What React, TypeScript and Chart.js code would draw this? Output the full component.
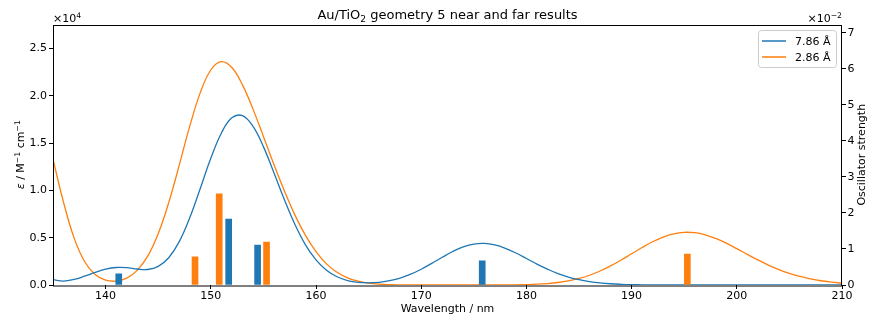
import { useEffect, useRef } from 'react';
import { Chart, registerables } from 'chart.js';

Chart.register(...registerables);

// ---- data ----
const wavelengths = [
  135, 136, 137, 138, 139, 140, 141, 142, 143, 144, 145, 146, 147, 148, 149, 150,
  151, 152, 153, 154, 155, 156, 157, 158, 159, 160, 161, 162, 163, 164, 165, 166,
  167, 168, 169, 170, 171, 172, 173, 174, 175, 176, 177, 178, 179, 180, 181, 182,
  183, 184, 185, 186, 187, 188, 189, 190, 191, 192, 193, 194, 195, 196, 197, 198,
  199, 200, 201, 202, 203, 204, 205, 206, 207, 208, 209, 210,
];

// epsilon in units of 10^4 M^-1 cm^-1
const epsFar = [
  0.056, 0.042, 0.059, 0.093, 0.133, 0.167, 0.185, 0.183, 0.169, 0.164, 0.197, 0.288,
  0.459, 0.712, 1.021, 1.339, 1.605, 1.767, 1.790, 1.679, 1.463, 1.187, 0.901, 0.640,
  0.425, 0.266, 0.156, 0.087, 0.047, 0.028, 0.023, 0.028, 0.046, 0.073, 0.114, 0.167,
  0.229, 0.293, 0.354, 0.403, 0.433, 0.440, 0.424, 0.388, 0.338, 0.280, 0.221, 0.168,
  0.121, 0.084, 0.056, 0.036, 0.022, 0.013, 0.0076, 0.0042, 0.0023, 0.0011, 0.0006, 0.0003,
  0.0001, 0, 0, 0, 0, 0, 0, 0, 0, 0, 0, 0, 0, 0, 0, 0,
];

const epsNear = [
  1.331, 0.875, 0.498, 0.248, 0.111, 0.051, 0.041, 0.072, 0.155, 0.305, 0.543, 0.871,
  1.267, 1.679, 2.034, 2.273, 2.361, 2.300, 2.118, 1.862, 1.571, 1.274, 0.993, 0.739,
  0.525, 0.353, 0.223, 0.134, 0.075, 0.040, 0.020, 0.0092, 0.0041, 0.0017, 0.0007, 0.0003,
  0, 0, 0, 0, 0, 0, 0, 0.0009, 0.002, 0.0043, 0.0082, 0.0152, 0.0265, 0.0437, 0.0688, 0.103,
  0.148, 0.202, 0.264, 0.330, 0.396, 0.457, 0.507, 0.541, 0.557, 0.553, 0.531, 0.492,
  0.442, 0.384, 0.324, 0.265, 0.211, 0.163, 0.123, 0.090, 0.065, 0.045, 0.031, 0.020,
];

// oscillator strengths in units of 10^-2
const stickFarX = [141.25, 151.7, 154.45, 175.8];
const stickFarF = [0.31, 1.83, 1.11, 0.67];
const stickNearX = [148.5, 150.8, 155.3, 195.3];
const stickNearF = [0.78, 2.53, 1.19, 0.86];

const xTickValues = [140, 150, 160, 170, 180, 190, 200, 210];
const seriesLabels = ['7.86 Å', '2.86 Å'];
const seriesColors = ['#1f77b4', '#ff7f0e'];

const FONT = '"DejaVu Sans", "Liberation Sans", sans-serif';

type Seg = { t: string; kind?: 'sup' | 'sub'; italic?: boolean };

function drawRich(
  ctx: CanvasRenderingContext2D,
  segs: Seg[],
  x: number,
  y: number,
  size: number,
  align: 'left' | 'center' | 'right'
) {
  const fontFor = (s: Seg) =>
    `${s.italic ? 'italic ' : ''}${s.kind ? size * 0.7 : size}px ${FONT}`;
  const widths = segs.map((s) => {
    ctx.font = fontFor(s);
    return ctx.measureText(s.t).width;
  });
  const total = widths.reduce((a, b) => a + b, 0);
  let cx = align === 'left' ? x : align === 'center' ? x - total / 2 : x - total;
  ctx.textAlign = 'left';
  ctx.textBaseline = 'alphabetic';
  segs.forEach((s, i) => {
    ctx.font = fontFor(s);
    const dy = s.kind === 'sup' ? -size * 0.4 : s.kind === 'sub' ? size * 0.22 : 0;
    ctx.fillText(s.t, cx, y + dy);
    cx += widths[i];
  });
}

const decorPlugin = {
  id: 'decor',
  afterDraw(chart: any) {
    const ctx: CanvasRenderingContext2D = chart.ctx;
    const a = chart.chartArea;
    ctx.save();
    // spines
    ctx.strokeStyle = '#000';
    ctx.lineWidth = 1;
    ctx.strokeRect(Math.round(a.left) + 0.5, Math.round(a.top) + 0.5,
      Math.round(a.right - a.left) - 1, Math.round(a.bottom - a.top) - 0.5);
    ctx.fillStyle = '#000';
    // title
    drawRich(ctx, [{ t: 'Au/TiO' }, { t: '2', kind: 'sub' }, { t: ' geometry 5 near and far results' }],
      (a.left + a.right) / 2, 19, 13, 'center');
    // offset multipliers
    drawRich(ctx, [{ t: '×10' }, { t: '4', kind: 'sup' }], a.left, 22, 11, 'left');
    drawRich(ctx, [{ t: '×10' }, { t: '−2', kind: 'sup' }], a.right, 22, 11, 'right');
    // x label
    drawRich(ctx, [{ t: 'Wavelength / nm' }], (a.left + a.right) / 2, 312, 11, 'center');
    // left y label
    const cy = (a.top + a.bottom) / 2;
    ctx.save();
    ctx.translate(24, cy);
    ctx.rotate(-Math.PI / 2);
    drawRich(ctx, [
      { t: 'ε', italic: true }, { t: ' / M' }, { t: '−1', kind: 'sup' }, { t: ' cm' }, { t: '−1', kind: 'sup' },
    ], 0, 0, 11, 'center');
    ctx.restore();
    // right y label
    ctx.save();
    ctx.translate(865, cy);
    ctx.rotate(-Math.PI / 2);
    drawRich(ctx, [{ t: 'Oscillator strength' }], 0, 0, 11, 'center');
    ctx.restore();
    // legend
    const bx = 758, by = 30, bw = 78, bh = 37;
    ctx.beginPath();
    (ctx as any).roundRect(bx + 0.5, by + 0.5, bw, bh, 3);
    ctx.fillStyle = 'rgba(255,255,255,0.8)';
    ctx.fill();
    ctx.strokeStyle = '#cccccc';
    ctx.lineWidth = 1;
    ctx.stroke();
    seriesLabels.forEach((lab, i) => {
      const ly = 41 + i * 16;
      ctx.strokeStyle = seriesColors[i];
      ctx.lineWidth = 1.5;
      ctx.beginPath();
      ctx.moveTo(762, ly);
      ctx.lineTo(786, ly);
      ctx.stroke();
      ctx.fillStyle = '#000';
      drawRich(ctx, [{ t: lab }], 795, ly + 4, 11, 'left');
    });
    ctx.restore();
  },
};

export default function App() {
  const ref = useRef<HTMLCanvasElement | null>(null);
  useEffect(() => {
    document.body.style.margin = '0';
    const canvas = ref.current;
    if (!canvas) return;
    const tickFont = { family: FONT, size: 11 };
    const grid = {
      display: true,
      drawOnChartArea: false,
      drawTicks: true,
      offset: false,
      tickLength: 4,
      tickWidth: 1,
      tickColor: '#000',
    };
    const lineCommon = {
      type: 'line',
      yAxisID: 'y',
      borderWidth: 1.3,
      pointRadius: 0,
      fill: false,
      tension: 0.4,
      cubicInterpolationMode: 'default',
      order: 1,
    };
    const chart = new Chart(canvas, {
      type: 'line',
      data: {
        datasets: [
          {
            type: 'bar',
            label: 'f far',
            yAxisID: 'y1',
            data: stickFarX.map((x, i) => ({ x, y: stickFarF[i] })),
            backgroundColor: seriesColors[0],
            barThickness: 6,
            grouped: false,
            order: 0,
          } as any,
          {
            type: 'bar',
            label: 'f near',
            yAxisID: 'y1',
            data: stickNearX.map((x, i) => ({ x, y: stickNearF[i] })),
            backgroundColor: seriesColors[1],
            barThickness: 6,
            grouped: false,
            order: 0,
          } as any,
          {
            ...lineCommon,
            label: seriesLabels[0],
            data: wavelengths.map((w, i) => ({ x: w, y: epsFar[i] })),
            borderColor: seriesColors[0],
          } as any,
          {
            ...lineCommon,
            label: seriesLabels[1],
            data: wavelengths.map((w, i) => ({ x: w, y: epsNear[i] })),
            borderColor: seriesColors[1],
          } as any,
        ],
      },
      options: {
        animation: false,
        responsive: false,
        maintainAspectRatio: false,
        layout: { padding: { top: 24.5, left: 0, right: 0, bottom: 0 } },
        plugins: {
          legend: { display: false },
          title: { display: false },
          tooltip: { enabled: false },
        },
        scales: {
          x: {
            type: 'linear',
            min: 135,
            max: 210,
            bounds: 'data',
            offset: false,
            grid,
            border: { display: false },
            ticks: {
              font: tickFont,
              color: '#000',
              padding: 1,
              maxRotation: 0,
              autoSkip: false,
            },
            afterBuildTicks: (s: any) => {
              s.ticks = xTickValues.map((v) => ({ value: v }));
            },
            afterFit: (s: any) => { s.height = 35; },
          },
          y: {
            type: 'linear',
            position: 'left',
            min: 0,
            max: 2.754,
            bounds: 'data',
            grid,
            border: { display: false },
            ticks: {
              stepSize: 0.5,
              includeBounds: false,
              font: tickFont,
              color: '#000',
              padding: 2,
              callback: (v: any) => Number(v).toFixed(1),
            },
            afterFit: (s: any) => { s.width = 53; },
          },
          y1: {
            type: 'linear',
            position: 'right',
            min: 0,
            max: 7.236,
            bounds: 'data',
            grid,
            border: { display: false },
            ticks: {
              stepSize: 1,
              includeBounds: false,
              font: tickFont,
              color: '#000',
              padding: 1.5,
              callback: (v: any) => String(Math.round(Number(v))),
            },
            afterFit: (s: any) => { s.width = 28; },
          },
        },
      } as any,
      plugins: [decorPlugin],
    });
    return () => chart.destroy();
  }, []);
  return <canvas ref={ref} width={870} height={320} style={{ display: 'block' }} />;
}
